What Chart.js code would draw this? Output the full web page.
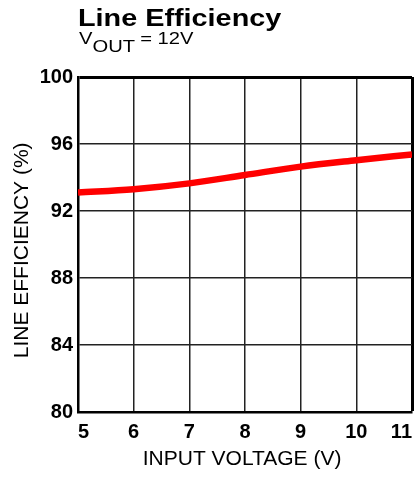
<!DOCTYPE html>
<html>
<head>
<meta charset="utf-8">
<script src="https://cdn.jsdelivr.net/npm/chart.js@4/dist/chart.umd.min.js"></script>
<style>
  body { margin: 0; background: #fff; }
  #wrap { position: relative; width: 420px; height: 477px; font-family: "Liberation Sans", Arial, sans-serif; }
  #chart { position: absolute; left: 0; top: 0; }
  .title { position: absolute; left: 78px; top: 6px; font-size: 24px; line-height: 24px; font-weight: bold; color: #000; transform: scaleX(1.2); transform-origin: left top; white-space: nowrap; }
  .subtitle { position: absolute; left: 79px; top: 31px; font-size: 16px; line-height: 16px; color: #000; transform: scaleX(1.26); transform-origin: left top; white-space: nowrap; }
  .subtitle .sub { position: relative; top: 8px; }
</style>
</head>
<body>
<div id="wrap">
  <canvas id="chart" width="420" height="477"></canvas>
  <div class="title">Line Efficiency</div>
  <div class="subtitle">V<span class="sub">OUT</span> = 12V</div>
</div>
<script>
// === Data ===
const inputVoltage = [5, 6, 7, 8, 9, 10, 11];
const lineEfficiency = [93.1, 93.3, 93.65, 94.15, 94.65, 95.03, 95.38];
const xTicks = [5, 6, 7, 8, 9, 10, 11];
const yTicks = [80, 84, 88, 92, 96, 100];

const tickFont = { family: "Liberation Sans", size: 20, weight: "bold" };
const titleFont = { family: "Liberation Sans", size: 21, weight: "normal" };

// thicker frame line on the last grid line (top / right edge)
function gridWidth(ctx) {
  return ctx.index === ctx.scale.ticks.length - 1 ? 3 : 1.5;
}
function gridColor(ctx) {
  return ctx.index === ctx.scale.ticks.length - 1 ? "#000" : "#222";
}

window.onload = function () {
  const ctx = document.getElementById("chart").getContext("2d");
  new Chart(ctx, {
    type: "line",
    data: {
      datasets: [
        {
          label: "Line Efficiency",
          data: inputVoltage.map((v, i) => ({ x: v, y: lineEfficiency[i] })),
          borderColor: "#ff0000",
          borderWidth: 6.5,
          pointRadius: 0,
          tension: 0.4,
          cubicInterpolationMode: "monotone",
          fill: false,
        },
      ],
    },
    options: {
      responsive: false,
      animation: false,
      layout: { padding: { top: 77, right: 5, bottom: 0, left: 0 } },
      plugins: { legend: { display: false }, tooltip: { enabled: false } },
      scales: {
        x: {
          type: "linear",
          min: 5,
          max: 11,
          afterBuildTicks: (scale) => { scale.ticks = xTicks.map((v) => ({ value: v })); },
          afterFit: (scale) => { scale.height = 65; },
          ticks: { color: "#000", font: tickFont, padding: 8, align: "inner", maxRotation: 0 },
          grid: { color: gridColor, lineWidth: gridWidth, drawTicks: false },
          border: { color: "#000", width: 2.5 },
          title: { display: true, text: "INPUT VOLTAGE (V) ", color: "#000", font: titleFont, padding: { top: 0, bottom: 5 } },
        },
        y: {
          min: 80,
          max: 100,
          afterBuildTicks: (scale) => { scale.ticks = yTicks.map((v) => ({ value: v })); },
          afterFit: (scale) => { scale.width = 78; },
          ticks: { color: "#000", font: tickFont, padding: 5 },
          grid: { color: gridColor, lineWidth: gridWidth, drawTicks: false },
          border: { color: "#000", width: 2.5 },
          title: { display: true, text: "LINE EFFICIENCY (%)  ", color: "#000", font: titleFont, padding: { top: 10, bottom: 0 } },
        },
      },
    },
  });
};
</script>
</body>
</html>
